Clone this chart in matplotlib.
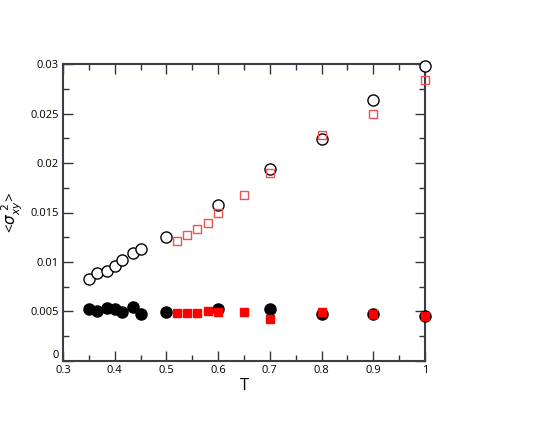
import numpy as np
import matplotlib.pyplot as plt
from matplotlib.ticker import MultipleLocator

# open circles (black)
T_oc = [0.35, 0.365, 0.385, 0.40, 0.415, 0.435, 0.45, 0.50, 0.60, 0.70, 0.80, 0.90, 1.00]
s_oc = [0.00825, 0.00886, 0.00909, 0.00956, 0.0102, 0.0109, 0.0113, 0.01256, 0.0158,
        0.01936, 0.0224, 0.02636, 0.02983]

# filled circles (black)
T_fc = [0.35, 0.365, 0.385, 0.40, 0.415, 0.435, 0.45, 0.50, 0.60, 0.70, 0.80, 0.90, 1.00]
s_fc = [0.00522, 0.00508, 0.00538, 0.00522, 0.00492, 0.00549, 0.00472, 0.00492, 0.00528,
        0.00525, 0.00475, 0.00472, 0.00458]

# open squares (red)
T_os = [0.52, 0.54, 0.56, 0.58, 0.60, 0.65, 0.70, 0.80, 0.90, 1.00]
s_os = [0.01212, 0.0127, 0.01333, 0.01397, 0.01492, 0.01677, 0.01902, 0.02283, 0.02498, 0.02842]

# filled squares (red)
T_fs = [0.52, 0.54, 0.56, 0.58, 0.60, 0.65, 0.70, 0.80, 0.90, 1.00]
s_fs = [0.00488, 0.00482, 0.00482, 0.00508, 0.00492, 0.00492, 0.00427, 0.00498, 0.00475, 0.00458]

xticks = [0.3, 0.4, 0.5, 0.6, 0.7, 0.8, 0.9, 1.0]
xlabels = ['0.3', '0.4', '0.5', '0.6', '0.7', '0.8', '0.9', '1']
yticks = [0, 0.005, 0.01, 0.015, 0.02, 0.025, 0.03]
ylabels = ['0', '0.005', '0.01', '0.015', '0.02', '0.025', '0.03']

plt.rcParams['font.family'] = ['Open Sans', 'DejaVu Sans']

fig = plt.figure(figsize=(5.5, 4.25), dpi=100)
ax = fig.add_axes([0.1145, 0.1506, 0.6582, 0.6988])

ax.plot(T_oc, s_oc, 'o', mfc='white', mec='black', mew=1.0, ms=8, ls='none', zorder=3, clip_on=False)
ax.plot(T_fc, s_fc, 'o', mfc='black', mec='black', ms=8, ls='none', zorder=3, clip_on=False)
ax.plot(T_os, s_os, 's', mfc='none', mec='#f05050', mew=1.0, ms=5.5, ls='none', zorder=4, clip_on=False)
ax.plot(T_fs, s_fs, 's', mfc='red', mec='red', ms=5.5, ls='none', zorder=4, clip_on=False)

ax.set_xlim(0.3, 1.0)
ax.set_ylim(0, 0.03)
ax.set_xticks(xticks)
ax.set_xticklabels(xlabels)
ax.set_yticks(yticks)
ax.set_yticklabels(ylabels)
ax.get_yticklabels()[0].set_va('bottom')
ax.xaxis.set_minor_locator(MultipleLocator(0.05))
ax.yaxis.set_minor_locator(MultipleLocator(0.0025))
ax.tick_params(which='both', direction='in', top=True, right=True, labelsize=8, color='#333333')
ax.tick_params(which='major', length=7, width=1.0, pad=3)
ax.tick_params(which='minor', length=4, width=1.0)
for sp in ax.spines.values():
    sp.set_linewidth(1.5)
    sp.set_color('#3a3f45')
    sp.set_zorder(2)

ax.set_xlabel('T', fontsize=12, labelpad=1)
ax.set_ylabel(r'<$\sigma_{xy}^{\ 2}$>', fontsize=11, labelpad=4)

fig.savefig('out.png', dpi=100)
